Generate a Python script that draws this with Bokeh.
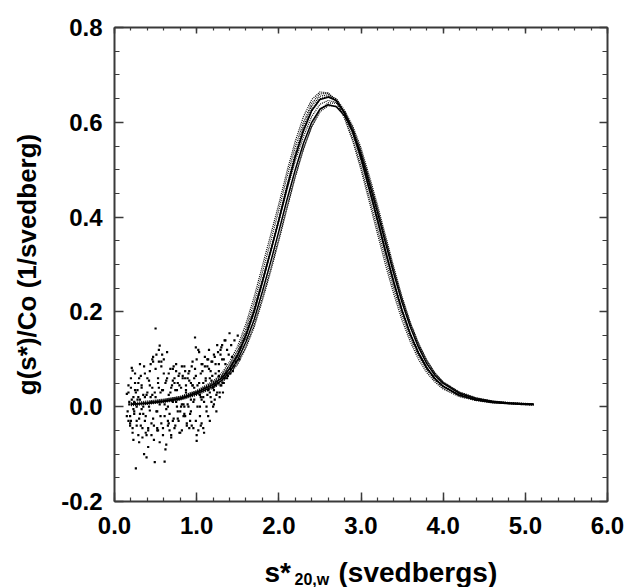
from bokeh.plotting import figure
from bokeh.layouts import column
from bokeh.models import Range1d, LinearAxis, SingleIntervalTicker, NumeralTickFormatter
from bokeh.core.properties import value
from bokeh.embed import file_html
from bokeh.resources import INLINE

FONT = "Liberation Sans"

# sedimentation coefficient grid (svedbergs) for the traced scans
s_grid = [0.2, 0.4, 0.6, 0.8, 1.0, 1.2, 1.3, 1.4, 1.5, 1.6, 1.7, 1.8, 1.9, 2.0, 2.1, 2.2, 2.3, 2.4, 2.5, 2.6,
          2.7, 2.8, 2.9, 3.0, 3.1, 3.2, 3.3, 3.4, 3.5, 3.6, 3.7, 3.8, 3.9, 4.0, 4.2, 4.4, 4.6, 4.8, 5.0, 5.1]

# dotted scans g(s*)/Co
scan_1 = [0.004, 0.010, 0.015, 0.022, 0.034, 0.054, 0.070, 0.094, 0.128, 0.175, 0.232, 0.297, 0.362, 0.428, 0.497,
          0.560, 0.612, 0.648, 0.664, 0.662, 0.645, 0.608, 0.560, 0.500, 0.433, 0.365, 0.298, 0.237, 0.182, 0.137,
          0.100, 0.072, 0.052, 0.037, 0.021, 0.013, 0.008, 0.006, 0.004, 0.004]
scan_2 = [0.006, 0.007, 0.010, 0.015, 0.026, 0.041, 0.052, 0.069, 0.093, 0.128, 0.173, 0.230, 0.290, 0.355, 0.422,
          0.487, 0.545, 0.590, 0.622, 0.635, 0.634, 0.618, 0.585, 0.538, 0.480, 0.418, 0.352, 0.287, 0.226, 0.173,
          0.129, 0.094, 0.068, 0.050, 0.029, 0.018, 0.012, 0.008, 0.006, 0.006]
scan_3 = [0.003, 0.009, 0.014, 0.020, 0.032, 0.050, 0.064, 0.086, 0.115, 0.158, 0.208, 0.268, 0.330, 0.392, 0.458,
          0.518, 0.570, 0.612, 0.638, 0.646, 0.642, 0.622, 0.588, 0.540, 0.480, 0.418, 0.352, 0.288, 0.228, 0.176,
          0.133, 0.098, 0.071, 0.052, 0.030, 0.018, 0.011, 0.008, 0.006, 0.005]
scan_4 = [0.007, 0.006, 0.011, 0.017, 0.028, 0.045, 0.058, 0.078, 0.106, 0.146, 0.198, 0.260, 0.327, 0.396, 0.468,
          0.535, 0.592, 0.634, 0.655, 0.658, 0.645, 0.612, 0.565, 0.508, 0.442, 0.376, 0.310, 0.248, 0.192, 0.145,
          0.107, 0.078, 0.056, 0.040, 0.023, 0.014, 0.009, 0.006, 0.004, 0.003]
scan_5 = [0.005, 0.008, 0.012, 0.018, 0.030, 0.047, 0.060, 0.080, 0.108, 0.150, 0.200, 0.262, 0.325, 0.390, 0.460,
          0.525, 0.580, 0.623, 0.648, 0.655, 0.650, 0.625, 0.585, 0.530, 0.465, 0.400, 0.330, 0.265, 0.205, 0.155,
          0.115, 0.083, 0.060, 0.044, 0.025, 0.015, 0.010, 0.007, 0.005, 0.005]
scan_6 = [0.008, 0.012, 0.016, 0.021, 0.033, 0.052, 0.066, 0.088, 0.120, 0.165, 0.220, 0.283, 0.348, 0.415, 0.485,
          0.548, 0.600, 0.640, 0.660, 0.661, 0.648, 0.618, 0.575, 0.520, 0.456, 0.390, 0.322, 0.258, 0.200, 0.152,
          0.112, 0.081, 0.058, 0.042, 0.024, 0.015, 0.010, 0.007, 0.005, 0.004]
scan_7 = [0.002, 0.005, 0.009, 0.014, 0.024, 0.039, 0.050, 0.067, 0.090, 0.124, 0.168, 0.224, 0.285, 0.350, 0.418,
          0.484, 0.543, 0.592, 0.626, 0.641, 0.640, 0.624, 0.592, 0.546, 0.488, 0.426, 0.360, 0.294, 0.232, 0.178,
          0.134, 0.098, 0.071, 0.052, 0.031, 0.019, 0.012, 0.009, 0.007, 0.006]
scan_8 = [0.006, 0.009, 0.013, 0.019, 0.031, 0.049, 0.062, 0.083, 0.112, 0.154, 0.205, 0.266, 0.330, 0.396, 0.465,
          0.530, 0.585, 0.627, 0.650, 0.654, 0.646, 0.620, 0.578, 0.522, 0.458, 0.392, 0.324, 0.260, 0.202, 0.153,
          0.114, 0.083, 0.060, 0.044, 0.026, 0.016, 0.010, 0.007, 0.005, 0.004]

# solid fitted curves
fit_a = [0.005, 0.008, 0.012, 0.018, 0.030, 0.047, 0.060, 0.080, 0.109, 0.151, 0.202, 0.264, 0.328, 0.394, 0.463,
         0.528, 0.583, 0.625, 0.648, 0.653, 0.646, 0.620, 0.580, 0.525, 0.460, 0.395, 0.327, 0.262, 0.203, 0.153,
         0.113, 0.082, 0.059, 0.043, 0.024, 0.014, 0.009, 0.007, 0.005, 0.005]
fit_b = [0.005, 0.007, 0.011, 0.016, 0.027, 0.043, 0.055, 0.073, 0.099, 0.137, 0.184, 0.243, 0.305, 0.370, 0.437,
         0.500, 0.556, 0.600, 0.628, 0.637, 0.633, 0.614, 0.580, 0.532, 0.472, 0.410, 0.344, 0.280, 0.220, 0.168,
         0.125, 0.091, 0.066, 0.049, 0.028, 0.017, 0.011, 0.008, 0.006, 0.005]

# noisy low-s points (wide scatter)
noise_s = [0.15, 0.16, 0.17, 0.18, 0.19, 0.20, 0.21, 0.22, 0.22, 0.23, 0.24, 0.25, 0.26, 0.27, 0.28, 0.29, 0.30, 0.30,
           0.31, 0.32, 0.33, 0.34, 0.35, 0.36, 0.37, 0.38, 0.39, 0.40, 0.41, 0.42, 0.43, 0.44, 0.45, 0.46, 0.47, 0.48,
           0.49, 0.50, 0.50, 0.51, 0.52, 0.53, 0.54, 0.55, 0.56, 0.57, 0.58, 0.59, 0.60, 0.61, 0.62, 0.63, 0.64, 0.65,
           0.66, 0.67, 0.68, 0.69, 0.70, 0.71, 0.72, 0.73, 0.74, 0.75, 0.76, 0.77, 0.78, 0.79, 0.80, 0.81, 0.82, 0.83,
           0.84, 0.85, 0.86, 0.87, 0.88, 0.89, 0.90, 0.91, 0.92, 0.93, 0.94, 0.95, 0.96, 0.97, 0.98, 0.99, 1.00, 1.00,
           1.01, 1.02, 1.03, 1.04, 1.05, 1.06, 1.07, 1.08, 1.09, 1.10, 1.11, 1.12, 1.13, 1.14, 1.15, 1.16, 1.17, 1.18,
           1.19, 1.20, 1.21, 1.22, 1.23, 1.24, 1.25, 1.26, 1.27, 1.28, 1.29, 1.30, 1.31, 1.32, 1.33, 1.34, 1.35, 1.36,
           1.37, 1.38, 1.40, 1.41, 1.42, 1.44, 1.46, 1.48, 1.50, 1.52,
           0.18, 0.24, 0.28, 0.33, 0.37, 0.42, 0.46, 0.52, 0.56, 0.61, 0.66, 0.71, 0.76, 0.82, 0.87, 0.93, 0.97, 1.04,
           1.08, 1.14, 1.18, 1.23, 1.27, 0.20, 0.26, 0.35, 0.44, 0.54, 0.63, 0.74, 0.85, 0.95, 1.06, 1.16]
noise_g = [0.027, -0.010, -0.030, 0.010, -0.020, 0.040, 0.082, 0.076, -0.045, 0.020, -0.015, 0.050, -0.130, 0.000,
           0.035, -0.060, 0.060, -0.025, 0.015, -0.040, 0.045, -0.065, 0.025, -0.100, 0.070, -0.020, -0.107, 0.030,
           -0.050, 0.055, -0.008, 0.090, -0.035, 0.040, 0.105, -0.070, -0.117, 0.165, 0.020, 0.110, -0.045, 0.060,
           0.120, 0.129, -0.020, 0.095, 0.035, -0.060, 0.100, -0.116, 0.050, -0.080, 0.115, -0.030, 0.070, -0.050,
           0.030, -0.065, 0.045, 0.080, -0.025, 0.060, -0.040, 0.090, 0.000, 0.050, -0.030, 0.070, -0.010, 0.040,
           -0.050, 0.065, 0.005, 0.085, -0.020, 0.045, -0.035, 0.060, 0.000, 0.075, -0.015, 0.050, -0.040, 0.095,
           0.010, 0.060, 0.146, -0.030, -0.072, 0.100, 0.045, -0.050, 0.115, 0.000, 0.070, -0.035, 0.090, 0.020,
           -0.055, 0.105, 0.060, 0.000, 0.085, -0.020, 0.120, 0.030, 0.075, 0.010, 0.095, 0.040, 0.110, 0.015,
           0.070, 0.025, 0.130, 0.050, 0.090, 0.030, 0.110, 0.045, 0.130, 0.050, 0.100, 0.060, 0.140, 0.070, 0.120,
           0.065, 0.155, 0.080, 0.130, 0.075, 0.140, 0.095, 0.150, 0.100,
           0.005, -0.010, 0.015, -0.005, 0.020, 0.000, 0.025, -0.010, 0.030, 0.005, 0.025, 0.010, 0.035, 0.005,
           0.030, 0.015, 0.040, 0.025, 0.050, 0.035, 0.055, 0.045, 0.065, -0.030, 0.030, -0.015, 0.020, 0.040,
           -0.005, 0.035, 0.000, 0.045, 0.015, 0.060]

# noisy low-s points (close to the band)
band_s = [0.15, 0.17, 0.19, 0.21, 0.23, 0.25, 0.27, 0.29, 0.31, 0.33, 0.35, 0.37, 0.39, 0.41, 0.43, 0.45, 0.47, 0.49,
          0.51, 0.53, 0.55, 0.57, 0.59, 0.61, 0.63, 0.65, 0.67, 0.69, 0.71, 0.73, 0.75, 0.77, 0.79, 0.81, 0.83, 0.85,
          0.87, 0.89, 0.91, 0.93, 0.95, 0.97, 0.99, 1.01, 1.03, 1.05, 1.07, 1.09, 1.11, 1.13, 1.15, 1.17, 1.19, 1.21,
          1.23, 1.25, 1.27, 1.29, 1.31, 1.33, 1.35, 1.37, 1.39, 1.41, 1.43, 1.45]
band_g = [-0.020, 0.030, -0.035, 0.015, -0.005, 0.035, -0.040, 0.020, -0.015, 0.040,
          0.000, -0.030, 0.025, -0.045, 0.045, 0.010, -0.025, 0.030, -0.010, 0.050,
          0.005, -0.035, 0.035, -0.020, 0.055, 0.000, -0.015, 0.040, -0.030, 0.050,
          0.010, -0.010, 0.045, 0.000, 0.060, -0.015, 0.035, 0.005, 0.055, -0.010,
          0.045, 0.015, 0.065, 0.000, 0.050, 0.020, 0.075, 0.010, 0.055, 0.025,
          0.080, 0.020, 0.065, 0.035, 0.090, 0.030, 0.075, 0.045, 0.100, 0.050,
          0.090, 0.060, 0.110, 0.070, 0.105, 0.085]

# further scattered low-s points (cloud)
cloud_s = [0.17, 0.19, 0.20, 0.22, 0.24, 0.25, 0.27, 0.29, 0.30, 0.32, 0.34, 0.36, 0.38, 0.40, 0.41, 0.43, 0.45, 0.47,
           0.48, 0.50, 0.52, 0.54, 0.55, 0.57, 0.59, 0.60, 0.62, 0.64, 0.66, 0.68, 0.69, 0.71, 0.73, 0.75, 0.77, 0.78,
           0.80, 0.82, 0.84, 0.86, 0.88, 0.90, 0.92, 0.94, 0.96, 0.98, 1.00, 1.02, 1.04, 1.06, 1.08, 1.10, 1.12, 1.14,
           1.16, 1.18, 1.20, 1.22, 1.24, 1.26, 1.28, 1.30, 1.32, 1.34, 0.23, 0.31, 0.39, 0.46, 0.53, 0.58, 0.65, 0.72,
           0.79, 0.86, 0.91, 0.99, 1.05, 1.13, 1.21, 1.29]
cloud_g = [0.045, -0.040, 0.060, -0.055, 0.010, 0.070, -0.030, 0.050, -0.075, 0.065,
           -0.045, 0.085, -0.055, 0.060, -0.085, 0.075, -0.060, 0.095, -0.040, 0.080,
           -0.050, 0.095, -0.075, 0.085, -0.045, 0.070, -0.090, 0.060, -0.035, 0.080,
           -0.060, 0.055, -0.045, 0.075, -0.025, 0.065, -0.055, 0.085, -0.020, 0.060,
           -0.040, 0.070, -0.030, 0.085, -0.045, 0.080, -0.060, 0.120, -0.020, 0.090,
           -0.045, 0.085, -0.010, 0.100, -0.030, 0.095, 0.000, 0.105, -0.010, 0.115,
           0.020, 0.125, 0.030, 0.140,
           -0.070, 0.090, -0.060, 0.100, -0.050, 0.110, -0.040, 0.085, -0.055, 0.075,
           -0.045, 0.125, -0.040, 0.100, 0.005, 0.120]

x_title = "s*"
x_title_sub = "20,w"
x_title_unit = "(svedbergs)"
y_title = "g(s*)/Co (1/svedberg)"

p = figure(width=625, height=545, output_backend="svg", toolbar_location=None,
           x_range=Range1d(0, 6), y_range=Range1d(-0.2, 0.8),
           min_border_left=114, min_border_right=18, min_border_top=27, min_border_bottom=44,
           x_axis_location=None, y_axis_location=None)
p.grid.visible = False
p.outline_line_color = None
p.background_fill_color = "white"
p.border_fill_color = "white"

AXC = "#3a3a3a"


def mk_axis(ticker, side, major_in, minor_in, labels):
    ax = LinearAxis(ticker=ticker, formatter=NumeralTickFormatter(format="0.0"))
    ax.axis_line_color = AXC
    ax.axis_line_width = 2
    ax.major_tick_in = major_in
    ax.major_tick_out = 0
    ax.minor_tick_in = minor_in
    ax.minor_tick_out = 0
    ax.major_tick_line_color = AXC
    ax.minor_tick_line_color = AXC
    ax.major_tick_line_width = 1.5
    ax.minor_tick_line_width = 1.2
    if labels:
        ax.major_label_text_font = FONT
        ax.major_label_text_font_style = "bold"
        ax.major_label_text_font_size = "24px"
        ax.major_label_text_color = "black"
    else:
        ax.major_label_text_font_size = "0px"
        ax.major_label_standoff = 0
    p.add_layout(ax, side)
    return ax


bx = mk_axis(SingleIntervalTicker(interval=1.0, num_minor_ticks=5), "below", 9, 4, True)
bx.major_label_standoff = 15
lx = mk_axis(SingleIntervalTicker(interval=0.2, num_minor_ticks=4), "left", 9, 5, True)
lx.major_label_standoff = 12
lx.axis_label = y_title
lx.axis_label_text_font = FONT
lx.axis_label_text_font_style = "bold"
lx.axis_label_text_font_size = "26px"
lx.axis_label_text_color = "black"
lx.axis_label_standoff = 16
mk_axis(SingleIntervalTicker(interval=1.0, num_minor_ticks=5), "above", 6, 3, False)
mk_axis(SingleIntervalTicker(interval=0.2, num_minor_ticks=4), "right", 8, 5, False)

for sc in [scan_1, scan_2, scan_3, scan_4, scan_5, scan_6, scan_7, scan_8]:
    p.line(s_grid, sc, line_color="black", line_width=1.2, line_dash="1 1")
for ft in [fit_a, fit_b]:
    p.line(s_grid, ft, line_color="black", line_width=1.5)
for xs, ys in [(noise_s, noise_g), (band_s, band_g), (cloud_s, cloud_g)]:
    p.scatter(xs, ys, size=2.2, marker="square", fill_color="black", line_color=None)

# strip below the chart holding the x-axis title (with its subscript); its frame lines up with
# the chart frame (canvas x 114..607), so x here is canvas pixels; y is pixels from the strip top
p2 = figure(width=625, height=42, output_backend="svg", toolbar_location=None,
            x_range=Range1d(114, 607), y_range=Range1d(42, 0), min_border=0,
            min_border_left=114, min_border_right=18,
            x_axis_location=None, y_axis_location=None)
p2.grid.visible = False
p2.outline_line_color = None
p2.background_fill_color = "white"
p2.border_fill_color = "white"
p2.text(x=[264], y=[27], text=[x_title], text_font=value(FONT), text_font_style=value("bold"),
        text_font_size=value("28px"), text_color="black", text_baseline=value("alphabetic"), text_align=value("left"))
p2.text(x=[294], y=[34], text=[x_title_sub], text_font=value(FONT), text_font_style=value("bold"),
        text_font_size=value("16px"), text_color="black", text_baseline=value("alphabetic"), text_align=value("left"))
p2.text(x=[338], y=[27], text=[x_title_unit], text_font=value(FONT), text_font_style=value("bold"),
        text_font_size=value("28px"), text_color="black", text_baseline=value("alphabetic"), text_align=value("left"))

layout = column(p, p2, spacing=0)
open("out.html", "w").write(file_html(layout, INLINE))
